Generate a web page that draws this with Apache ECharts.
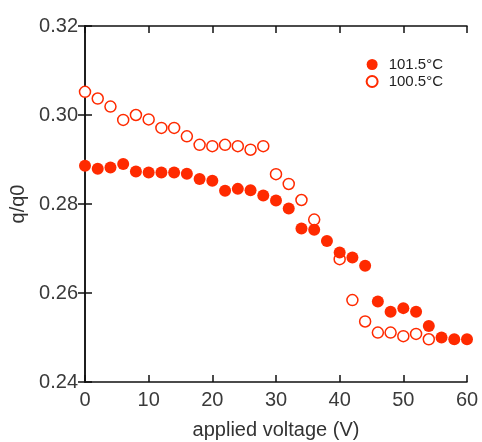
<!DOCTYPE html>
<html>
<head>
<meta charset="utf-8">
<style>
  html, body { margin: 0; padding: 0; background: #fff; }
  #chart { width: 482px; height: 442px; }
</style>
<script src="https://cdn.jsdelivr.net/npm/echarts@6/dist/echarts.min.js"></script>
</head>
<body>
<div id="chart"></div>
<script>
// applied voltage (V)
const voltage = [0, 2, 4, 6, 8, 10, 12, 14, 16, 18, 20, 22, 24, 26, 28, 30,
                 32, 34, 36, 38, 40, 42, 44, 46, 48, 50, 52, 54, 56, 58, 60];

// q/q0 at 101.5 °C (filled markers)
const q1015 = [0.2886, 0.2879, 0.2882, 0.2890, 0.2873, 0.2871, 0.2871, 0.2871,
               0.2868, 0.2856, 0.2852, 0.2830, 0.2834, 0.2831, 0.2819, 0.2808,
               0.2790, 0.2745, 0.2742, 0.2717, 0.2691, 0.2680, 0.2661, 0.2581,
               0.2558, 0.2566, 0.2558, 0.2526, 0.2500, 0.2496, 0.2496];

// q/q0 at 100.5 °C (open markers)
const voltage1005 = [0, 2, 4, 6, 8, 10, 12, 14, 16, 18, 20, 22, 24, 26, 28,
                     30, 32, 34, 36, 40, 42, 44, 46, 48, 50, 52, 54];
const q1005 = [0.3052, 0.3037, 0.3019, 0.2989, 0.3000, 0.2990, 0.2971, 0.2971,
               0.2952, 0.2933, 0.2930, 0.2933, 0.2930, 0.2922, 0.2930,
               0.2867, 0.2845, 0.2809, 0.2765, 0.2676, 0.2584, 0.2536,
               0.2511, 0.2511, 0.2503, 0.2508, 0.2496];

const xTicks = { min: 0, max: 60, interval: 10 };
const yTicks = { min: 0.24, max: 0.32, interval: 0.02 };

const RED = '#ff2a00';
const FONT = '"Liberation Sans", Arial, sans-serif';

const pairs = (xs, ys) => xs.map((x, i) => [x, ys[i]]);

const frameLine = { show: true, lineStyle: { color: '#111', width: 1.5 } };
const innerTick = { show: true, inside: true, length: 7, lineStyle: { color: '#111', width: 1.5 } };

const chart = echarts.init(document.getElementById('chart'), null, { renderer: 'canvas' });
chart.setOption({
  animation: false,
  backgroundColor: '#fff',
  grid: { left: 85, right: 15, top: 26, bottom: 60, containLabel: false, outerBoundsMode: 'none' },
  legend: {
    right: 34, top: 52, orient: 'vertical',
    itemWidth: 11, itemHeight: 11, itemGap: 2,
    textStyle: { fontFamily: FONT, fontSize: 15, color: '#222', padding: [0, 0, 0, 6] },
    data: ['101.5°C', '100.5°C']
  },
  xAxis: [
    {
      type: 'value', position: 'bottom', ...xTicks,
      name: 'applied voltage (V)', nameLocation: 'middle', nameGap: 38,
      nameTextStyle: { fontFamily: FONT, fontSize: 20, color: '#333' },
      axisLine: frameLine, axisTick: innerTick, splitLine: { show: false },
      axisLabel: { fontFamily: FONT, fontSize: 20, color: '#3a3a3a', margin: 8 }
    },
    {
      type: 'value', position: 'top', ...xTicks,
      axisLine: frameLine, axisTick: innerTick, splitLine: { show: false },
      axisLabel: { show: false }
    }
  ],
  yAxis: [
    {
      type: 'value', position: 'left', ...yTicks,
      name: 'q/q0', nameLocation: 'middle', nameGap: 53, nameRotate: 90,
      nameTextStyle: { fontFamily: FONT, fontSize: 20, color: '#333' },
      axisLine: frameLine, axisTick: innerTick, splitLine: { show: false },
      axisLabel: { fontFamily: FONT, fontSize: 20, color: '#3a3a3a', margin: 7,
                   formatter: v => v.toFixed(2) }
    },
    {
      type: 'value', position: 'right', ...yTicks,
      axisLine: frameLine, axisTick: innerTick, splitLine: { show: false },
      axisLabel: { show: false }
    }
  ],
  series: [
    {
      name: '101.5°C', type: 'scatter', symbol: 'circle', symbolSize: 12,
      itemStyle: { color: RED, opacity: 1 },
      data: pairs(voltage, q1015), z: 3
    },
    {
      name: '100.5°C', type: 'scatter', symbol: 'circle', symbolSize: 11,
      itemStyle: { color: '#fff', borderColor: RED, borderWidth: 1.5, opacity: 1 },
      data: pairs(voltage1005, q1005), z: 2
    }
  ]
});
</script>
</body>
</html>
